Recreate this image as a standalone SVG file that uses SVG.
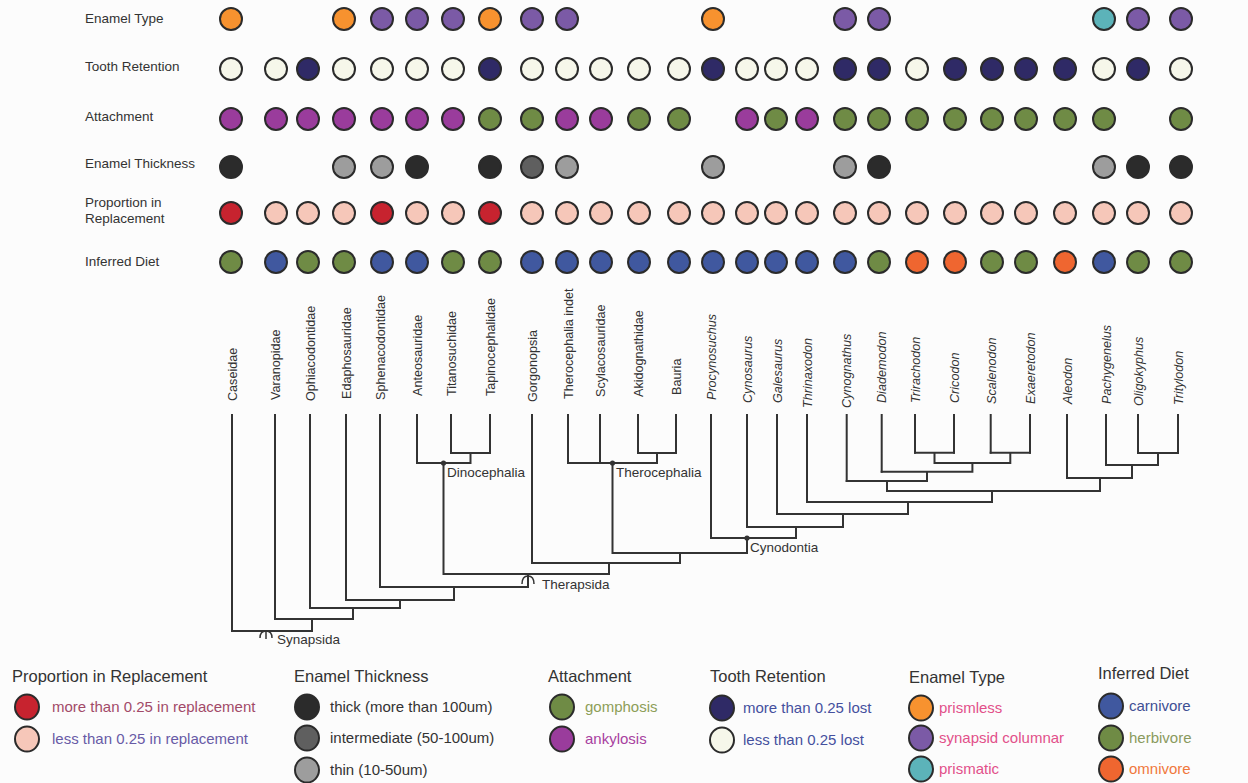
<svg xmlns="http://www.w3.org/2000/svg" width="1248" height="783" viewBox="0 0 1248 783">
<style>
text{font-family:"Liberation Sans",Arial,Helvetica,sans-serif;fill:#333}
.rl{font-size:13.5px}
.tx{font-size:12.6px;text-anchor:start}
.it{font-style:italic}
.cl{font-size:13.5px}
.lt{font-size:16.5px}
.li{font-size:15px}
circle.d,ellipse.d{stroke:#2b2b2b;stroke-width:2}
.pl{fill:#f7922f}.sy{fill:#7b5aa6}.pr{fill:#5cb3b9}
.lo{fill:#2f2a66}.ke{fill:#f6f7ea}
.an{fill:#9a3c9c}.go{fill:#6f8b45}
.tk{fill:#2b2b2b}.im{fill:#5f5f5f}.tn{fill:#9d9d9d}
.hi{fill:#c7232f}.lw{fill:#f6c7b9}
.ca{fill:#40589f}.he{fill:#6f8b45}.om{fill:#ef6630}
.br{fill:none;stroke:#333;stroke-width:2;stroke-linecap:square}
.sym{fill:none;stroke:#333;stroke-width:1.5}
</style>
<rect width="1248" height="783" fill="#fcfcfc"/>

<g id="row-labels">
<text class="rl" x="85" y="23">Enamel Type</text>
<text class="rl" x="85" y="71">Tooth Retention</text>
<text class="rl" x="85" y="121">Attachment</text>
<text class="rl" x="85" y="168">Enamel Thickness</text>
<text class="rl" x="85" y="207">Proportion in</text>
<text class="rl" x="85" y="223">Replacement</text>
<text class="rl" x="85" y="266">Inferred Diet</text>
</g>

<g id="t01"><text class="tx" transform="translate(237,401) rotate(-90)">Caseidae</text>
<circle class="d pl" cx="231" cy="19" r="11"/><circle class="d ke" cx="231" cy="69" r="11"/><circle class="d an" cx="231" cy="119" r="11"/><circle class="d tk" cx="231" cy="167" r="11"/><circle class="d hi" cx="231" cy="213" r="11"/><circle class="d he" cx="231" cy="262" r="11"/></g>
<g id="t02"><text class="tx" transform="translate(280,400) rotate(-90)">Varanopidae</text>
<circle class="d ke" cx="276" cy="69" r="11"/><circle class="d an" cx="276" cy="119" r="11"/><circle class="d lw" cx="276" cy="213" r="11"/><circle class="d ca" cx="276" cy="262" r="11"/></g>
<g id="t03"><text class="tx" transform="translate(315,401) rotate(-90)">Ophiacodontidae</text>
<circle class="d lo" cx="308" cy="69" r="11"/><circle class="d an" cx="308" cy="119" r="11"/><circle class="d lw" cx="308" cy="213" r="11"/><circle class="d he" cx="308" cy="262" r="11"/></g>
<g id="t04"><text class="tx" transform="translate(351,399) rotate(-90)">Edaphosauridae</text>
<circle class="d pl" cx="344" cy="19" r="11"/><circle class="d ke" cx="344" cy="69" r="11"/><circle class="d an" cx="344" cy="119" r="11"/><circle class="d tn" cx="344" cy="167" r="11"/><circle class="d lw" cx="344" cy="213" r="11"/><circle class="d he" cx="344" cy="262" r="11"/></g>
<g id="t05"><text class="tx" transform="translate(385,400) rotate(-90)">Sphenacodontidae</text>
<circle class="d sy" cx="382" cy="19" r="11"/><circle class="d ke" cx="382" cy="69" r="11"/><circle class="d an" cx="382" cy="119" r="11"/><circle class="d tn" cx="382" cy="167" r="11"/><circle class="d hi" cx="382" cy="213" r="11"/><circle class="d ca" cx="382" cy="262" r="11"/></g>
<g id="t06"><text class="tx" transform="translate(422,396) rotate(-90)">Anteosauridae</text>
<circle class="d sy" cx="417" cy="19" r="11"/><circle class="d ke" cx="417" cy="69" r="11"/><circle class="d an" cx="417" cy="119" r="11"/><circle class="d tk" cx="417" cy="167" r="11"/><circle class="d lw" cx="417" cy="213" r="11"/><circle class="d ca" cx="417" cy="262" r="11"/></g>
<g id="t07"><text class="tx" transform="translate(456,396) rotate(-90)">Titanosuchidae</text>
<circle class="d sy" cx="453" cy="19" r="11"/><circle class="d ke" cx="453" cy="69" r="11"/><circle class="d an" cx="453" cy="119" r="11"/><circle class="d lw" cx="453" cy="213" r="11"/><circle class="d he" cx="453" cy="262" r="11"/></g>
<g id="t08"><text class="tx" transform="translate(495,396) rotate(-90)">Tapinocephalidae</text>
<circle class="d pl" cx="490" cy="19" r="11"/><circle class="d lo" cx="490" cy="69" r="11"/><circle class="d go" cx="490" cy="119" r="11"/><circle class="d tk" cx="490" cy="167" r="11"/><circle class="d hi" cx="490" cy="213" r="11"/><circle class="d he" cx="490" cy="262" r="11"/></g>
<g id="t09"><text class="tx" transform="translate(537,402) rotate(-90)">Gorgonopsia</text>
<circle class="d sy" cx="532" cy="19" r="11"/><circle class="d ke" cx="532" cy="69" r="11"/><circle class="d go" cx="532" cy="119" r="11"/><circle class="d im" cx="532" cy="167" r="11"/><circle class="d lw" cx="532" cy="213" r="11"/><circle class="d ca" cx="532" cy="262" r="11"/></g>
<g id="t10"><text class="tx" transform="translate(573,399) rotate(-90)">Therocephalia indet</text>
<circle class="d sy" cx="567" cy="19" r="11"/><circle class="d ke" cx="567" cy="69" r="11"/><circle class="d an" cx="567" cy="119" r="11"/><circle class="d tn" cx="567" cy="167" r="11"/><circle class="d lw" cx="567" cy="213" r="11"/><circle class="d ca" cx="567" cy="262" r="11"/></g>
<g id="t11"><text class="tx" transform="translate(605,397) rotate(-90)">Scylacosauridae</text>
<circle class="d ke" cx="601" cy="69" r="11"/><circle class="d an" cx="601" cy="119" r="11"/><circle class="d lw" cx="601" cy="213" r="11"/><circle class="d ca" cx="601" cy="262" r="11"/></g>
<g id="t12"><text class="tx" transform="translate(643,397) rotate(-90)">Akidognathidae</text>
<circle class="d ke" cx="639" cy="69" r="11"/><circle class="d go" cx="639" cy="119" r="11"/><circle class="d lw" cx="639" cy="213" r="11"/><circle class="d ca" cx="639" cy="262" r="11"/></g>
<g id="t13"><text class="tx" transform="translate(681,395) rotate(-90)">Bauria</text>
<circle class="d ke" cx="679" cy="69" r="11"/><circle class="d go" cx="679" cy="119" r="11"/><circle class="d lw" cx="679" cy="213" r="11"/><circle class="d ca" cx="679" cy="262" r="11"/></g>
<g id="t14"><text class="tx it" transform="translate(716,400) rotate(-90)">Procynosuchus</text>
<circle class="d pl" cx="713" cy="19" r="11"/><circle class="d lo" cx="713" cy="69" r="11"/><circle class="d tn" cx="713" cy="167" r="11"/><circle class="d lw" cx="713" cy="213" r="11"/><circle class="d ca" cx="713" cy="262" r="11"/></g>
<g id="t15"><text class="tx it" transform="translate(752,403) rotate(-90)">Cynosaurus</text>
<circle class="d ke" cx="747" cy="69" r="11"/><circle class="d an" cx="747" cy="119" r="11"/><circle class="d lw" cx="747" cy="213" r="11"/><circle class="d ca" cx="747" cy="262" r="11"/></g>
<g id="t16"><text class="tx it" transform="translate(782,403) rotate(-90)">Galesaurus</text>
<circle class="d ke" cx="776" cy="69" r="11"/><circle class="d go" cx="776" cy="119" r="11"/><circle class="d lw" cx="776" cy="213" r="11"/><circle class="d ca" cx="776" cy="262" r="11"/></g>
<g id="t17"><text class="tx it" transform="translate(812,408) rotate(-90)">Thrinaxodon</text>
<circle class="d ke" cx="807" cy="69" r="11"/><circle class="d an" cx="807" cy="119" r="11"/><circle class="d lw" cx="807" cy="213" r="11"/><circle class="d ca" cx="807" cy="262" r="11"/></g>
<g id="t18"><text class="tx it" transform="translate(851,408) rotate(-90)">Cynognathus</text>
<circle class="d sy" cx="845" cy="19" r="11"/><circle class="d lo" cx="845" cy="69" r="11"/><circle class="d go" cx="845" cy="119" r="11"/><circle class="d tn" cx="845" cy="167" r="11"/><circle class="d lw" cx="845" cy="213" r="11"/><circle class="d ca" cx="845" cy="262" r="11"/></g>
<g id="t19"><text class="tx it" transform="translate(886,403) rotate(-90)">Diademodon</text>
<circle class="d sy" cx="879" cy="19" r="11"/><circle class="d lo" cx="879" cy="69" r="11"/><circle class="d go" cx="879" cy="119" r="11"/><circle class="d tk" cx="879" cy="167" r="11"/><circle class="d lw" cx="879" cy="213" r="11"/><circle class="d he" cx="879" cy="262" r="11"/></g>
<g id="t20"><text class="tx it" transform="translate(920,403) rotate(-90)">Trirachodon</text>
<circle class="d ke" cx="917" cy="69" r="11"/><circle class="d go" cx="917" cy="119" r="11"/><circle class="d lw" cx="917" cy="213" r="11"/><circle class="d om" cx="917" cy="262" r="11"/></g>
<g id="t21"><text class="tx it" transform="translate(959,403) rotate(-90)">Cricodon</text>
<circle class="d lo" cx="955" cy="69" r="11"/><circle class="d go" cx="955" cy="119" r="11"/><circle class="d lw" cx="955" cy="213" r="11"/><circle class="d om" cx="955" cy="262" r="11"/></g>
<g id="t22"><text class="tx it" transform="translate(996,404) rotate(-90)">Scalenodon</text>
<circle class="d lo" cx="992" cy="69" r="11"/><circle class="d go" cx="992" cy="119" r="11"/><circle class="d lw" cx="992" cy="213" r="11"/><circle class="d he" cx="992" cy="262" r="11"/></g>
<g id="t23"><text class="tx it" transform="translate(1035,404) rotate(-90)">Exaeretodon</text>
<circle class="d lo" cx="1026" cy="69" r="11"/><circle class="d go" cx="1026" cy="119" r="11"/><circle class="d lw" cx="1026" cy="213" r="11"/><circle class="d he" cx="1026" cy="262" r="11"/></g>
<g id="t24"><text class="tx it" transform="translate(1072,404) rotate(-90)">Aleodon</text>
<circle class="d lo" cx="1065" cy="69" r="11"/><circle class="d go" cx="1065" cy="119" r="11"/><circle class="d lw" cx="1065" cy="213" r="11"/><circle class="d om" cx="1065" cy="262" r="11"/></g>
<g id="t25"><text class="tx it" transform="translate(1111,404) rotate(-90)">Pachygenelus</text>
<circle class="d pr" cx="1104" cy="19" r="11"/><circle class="d ke" cx="1104" cy="69" r="11"/><circle class="d go" cx="1104" cy="119" r="11"/><circle class="d tn" cx="1104" cy="167" r="11"/><circle class="d lw" cx="1104" cy="213" r="11"/><circle class="d ca" cx="1104" cy="262" r="11"/></g>
<g id="t26"><text class="tx it" transform="translate(1143,406) rotate(-90)">Oligokyphus</text>
<circle class="d sy" cx="1138" cy="19" r="11"/><circle class="d lo" cx="1138" cy="69" r="11"/><circle class="d tk" cx="1138" cy="167" r="11"/><circle class="d lw" cx="1138" cy="213" r="11"/><circle class="d he" cx="1138" cy="262" r="11"/></g>
<g id="t27"><text class="tx it" transform="translate(1183,405) rotate(-90)">Tritylodon</text>
<circle class="d sy" cx="1181" cy="19" r="11"/><circle class="d ke" cx="1181" cy="69" r="11"/><circle class="d go" cx="1181" cy="119" r="11"/><circle class="d tk" cx="1181" cy="167" r="11"/><circle class="d lw" cx="1181" cy="213" r="11"/><circle class="d he" cx="1181" cy="262" r="11"/></g>

<g id="connectors">
<path class="br" d="M232 415V631M275 415V619M310 415V608M346 415V600M380 415V587M417 415V463M451 415V453M490 415V453M532 415V563M568 415V463M600 415V463M638 415V453M676 415V453M711 415V538M747 415V527M777 415V514M807 415V502M846.7 415V481M881.7 415V471.7M915 415V452.7M954 415V452.7M990.7 415V452.7M1030 415V452.7M1067 415V478M1106 415V465M1138 415V453M1178 415V453"/>
<path class="br" d="M451 453H490M470.5 453V463M417 463H470.5M443.5 463V574M638 453H676M657 453V463M568 463H657M612.5 463V553M915 452.7H954M934.5 452.7V463M990.7 452.7H1030M1010.3 452.7V463M934.5 463H1010.3M972.4 463V471.7M881.7 471.7H972.4M927 471.7V481M846.7 481H927M887 481V491M1138 453H1178M1158 453V465M1106 465H1158M1132 465V478M1067 478H1132M1100 478V491M887 491H1100M992 491V502M807 502H992M908 502V514M777 514H908M843 514V527M747 527H843M796 527V538M711 538H796M747 538V553M612.5 553H747M680 553V563M532 563H680M609 563V574M443.5 574H609M528 574V587M380 587H528M454 587V600M346 600H454M400 600V608M310 608H400M353 608V619M275 619H353M312 619V631M232 631H312"/>
<circle cx="443.5" cy="463" r="2.6" fill="#333"/>
<circle cx="612.5" cy="463" r="2.6" fill="#333"/>
<circle cx="747" cy="538" r="2.6" fill="#333"/>
<path class="sym" d="M522 584Q522 576 528 576Q534 576 534 584"/>
<path class="sym" d="M260 638Q260 631 266 631Q272 631 272 638M266 631V639"/>
</g>

<g id="clade-labels">
<text class="cl" x="447" y="477">Dinocephalia</text>
<text class="cl" x="616" y="477">Therocephalia</text>
<text class="cl" x="750" y="552">Cynodontia</text>
<text class="cl" x="542" y="589">Therapsida</text>
<text class="cl" x="277" y="644">Synapsida</text>
</g>

<g id="legend-proportion">
<text class="lt" x="12" y="682">Proportion in Replacement</text>
<ellipse class="d hi" cx="27" cy="707" rx="12" ry="12.5"/>
<text class="li" x="52" y="712" style="fill:#a24a68">more than 0.25 in replacement</text>
<ellipse class="d lw" cx="27" cy="739" rx="12" ry="12.5"/>
<text class="li" x="52" y="744" style="fill:#685aa6">less than 0.25 in replacement</text>
</g>
<g id="legend-thickness">
<text class="lt" x="294" y="682">Enamel Thickness</text>
<ellipse class="d tk" cx="307" cy="707" rx="12" ry="12.5"/>
<text class="li" x="330" y="712">thick (more than 100um)</text>
<ellipse class="d im" cx="307" cy="738" rx="12" ry="12.5"/>
<text class="li" x="330" y="743">intermediate (50-100um)</text>
<ellipse class="d tn" cx="307" cy="770" rx="12" ry="12.5"/>
<text class="li" x="330" y="775">thin (10-50um)</text>
</g>
<g id="legend-attachment">
<text class="lt" x="548" y="682">Attachment</text>
<ellipse class="d go" cx="562" cy="707" rx="12" ry="12.5"/>
<text class="li" x="585" y="712" style="fill:#8d9e58">gomphosis</text>
<ellipse class="d an" cx="562" cy="739" rx="12" ry="12.5"/>
<text class="li" x="585" y="744" style="fill:#a8419f">ankylosis</text>
</g>
<g id="legend-retention">
<text class="lt" x="710" y="682">Tooth Retention</text>
<ellipse class="d lo" cx="722" cy="708" rx="12" ry="12.5"/>
<text class="li" x="743" y="713" style="fill:#45509e">more than 0.25 lost</text>
<ellipse class="d ke" cx="722" cy="740" rx="12" ry="12.5"/>
<text class="li" x="743" y="745" style="fill:#45509e">less than 0.25 lost</text>
</g>
<g id="legend-enamel-type">
<text class="lt" x="909" y="683">Enamel Type</text>
<ellipse class="d pl" cx="921" cy="708" rx="12" ry="12.5"/>
<text class="li" x="939" y="713" style="fill:#e2508a">prismless</text>
<ellipse class="d sy" cx="921" cy="738" rx="12" ry="12.5"/>
<text class="li" x="939" y="743" style="fill:#e2508a">synapsid columnar</text>
<ellipse class="d pr" cx="921" cy="769" rx="12" ry="12.5"/>
<text class="li" x="939" y="774" style="fill:#e2508a">prismatic</text>
</g>
<g id="legend-diet">
<text class="lt" x="1098" y="679">Inferred Diet</text>
<ellipse class="d ca" cx="1111" cy="706" rx="12" ry="12.5"/>
<text class="li" x="1129" y="711" style="fill:#3e4f94">carnivore</text>
<ellipse class="d he" cx="1111" cy="738" rx="12" ry="12.5"/>
<text class="li" x="1129" y="743" style="fill:#8a9a5e">herbivore</text>
<ellipse class="d om" cx="1111" cy="769" rx="12" ry="12.5"/>
<text class="li" x="1129" y="774" style="fill:#f0783c">omnivore</text>
</g>
</svg>
